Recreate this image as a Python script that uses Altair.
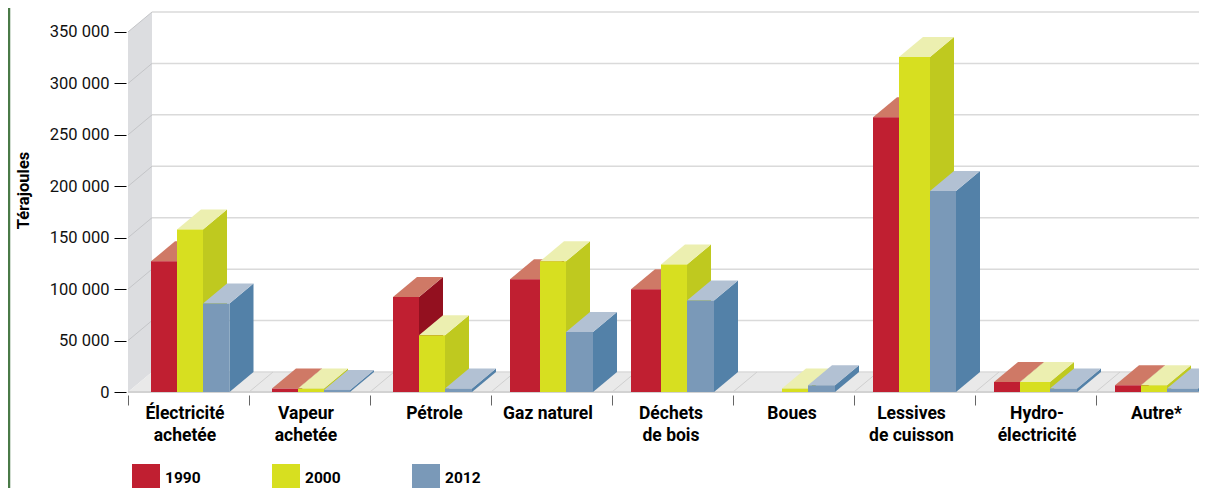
import altair as alt
import pandas as pd

# ---- data ----
categories = ["Électricité\nachetée", "Vapeur\nachetée", "Pétrole", "Gaz naturel", "Déchets\nde bois",
              "Boues", "Lessives\nde cuisson", "Hydro-\nélectricité", "Autre*"]
years = ["1990", "2000", "2012"]
v1990 = [127000, 3300, 92400, 109500, 99800, 0, 267000, 9700, 6500]
v2000 = [158000, 3300, 55100, 127000, 124000, 3300, 325700, 9700, 6500]
v2012 = [86000, 2000, 3300, 58300, 89000, 6500, 195400, 3300, 3300]
y_ticks = [0, 50000, 100000, 150000, 200000, 250000, 300000, 350000]

# ---- layout (drawing geometry of the pseudo-3D scene, in x-scale units) ----
STEP = 121
PLOT_W = 1071
PLOT_H = 380
DX = 24
DY = 19444
Y_MAX = 369444
edges = [[23, 49, 75, 101.5], [23, 49, 75, 101], [23, 49, 75, 102], [19, 49, 75, 102], [19, 49, 75, 102],
         [23, 49, 75, 102], [19, 45, 76, 102], [19, 45, 75, 102], [19, 45, 71, 102]]
label_shift = [-3.5, -3.5, 4, -3.5, -1.5, -1.5, -3, 1.5, 0]

front_col = {"1990": "#c01f31", "2000": "#d7df20", "2012": "#7a99b8"}
top_col = {"1990": "#cf7966", "2000": "#ecefb0", "2012": "#b2c1d3"}
side_col = {"1990": "#93101f", "2000": "#bfc91f", "2012": "#5381a8"}

FONT = "Roboto"
xs = alt.Scale(domain=[0, PLOT_W], nice=False, zero=False)
ys = alt.Scale(domain=[0, Y_MAX], nice=False)

fronts, sides, tops = [], [], []
for i, cat in enumerate(categories):
    for s, (yr, vals) in enumerate(zip(years, [v1990, v2000, v2012])):
        v = vals[i]
        if v == 0:
            continue
        x0 = i * STEP + edges[i][s]
        x1 = i * STEP + edges[i][s + 1]
        fronts.append(dict(cat=cat, year=yr, x=x0, x2=x1, v=v))
        for t in (0, 1):
            sides.append(dict(cat=cat, year=yr, x=x1 + t * DX, y=v + t * DY, y2=t * DY))
            tops.append(dict(cat=cat, year=yr, y=v + t * DY, x=x0 + t * DX, x2=x1 + t * DX))
fronts, sides, tops = map(pd.DataFrame, (fronts, sides, tops))

X = lambda f: alt.X(f, type="quantitative", scale=xs, axis=None)
Y = lambda f: alt.Y(f, type="quantitative", scale=ys, axis=None)

# wall (carries the value axis) and floor
wall_df = pd.DataFrame([dict(x=t * DX, y=t * DY, y2=350000 + t * DY) for t in (0, 1)])
wall = alt.Chart(wall_df).mark_area(color="#dcdde0", opacity=1).encode(
    x=alt.X("x:Q", scale=xs, axis=alt.Axis(
        values=[i * STEP for i in range(9)], labels=False, domain=False, grid=False, title=None,
        tickSize=10, tickColor="#666666", tickWidth=1, offset=3)),
    y=alt.Y("y:Q", scale=ys, axis=alt.Axis(
        values=y_ticks, domain=False, grid=False, tickSize=12, tickColor="#000000", tickWidth=1, offset=2,
        labelFont=FONT, labelFontSize=16.5, labelColor="#111111", labelPadding=5,
        labelExpr="replace(format(datum.value, ','), ',', ' ')",
        title="Térajoules", titleFont=FONT, titleFontSize=16.5, titleFontWeight="bold", titleColor="#000000",
        titleAngle=270, titleX=-95, titleY=178, titleAnchor="middle")),
    y2="y2:Q",
)
floor_df = pd.DataFrame([dict(y=t * DY, x=t * DX, x2=PLOT_W + t * DX) for t in (0, 1)])
floor = alt.Chart(floor_df).mark_area(color="#e9e9e9", orient="horizontal", opacity=1).encode(
    y=Y("y"), x=X("x"), x2="x2:Q")

grid_df = pd.DataFrame(dict(v=[v for v in y_ticks if v > 0]))
grid_back_df = pd.DataFrame(dict(v=y_ticks))
grid_df["x"], grid_df["x2"] = 0, DX
grid_df["y"] = grid_df.v
grid_df["y2"] = grid_df.v + DY
grid_back_df["x"], grid_back_df["x2"] = DX, PLOT_W
grid_back_df["y"] = grid_back_df.v + DY
slant = alt.Chart(grid_df).mark_rule(color="#c4c5c8", strokeWidth=1).encode(x=X("x"), x2="x2:Q", y=Y("y"), y2="y2:Q")
back = alt.Chart(grid_back_df).mark_rule(color="#dadada", strokeWidth=1.5).encode(x=X("x"), x2="x2:Q", y=Y("y"))

floor_lines_df = pd.DataFrame(dict(x=[i * STEP for i in range(1, 9)]))
floor_lines_df["x2"] = floor_lines_df.x + DX
floor_lines_df["y"] = 0
floor_lines_df["y2"] = DY
floor_lines = alt.Chart(floor_lines_df).mark_rule(color="#cfcfcf", strokeWidth=1).encode(
    x=X("x"), x2="x2:Q", y=Y("y"), y2="y2:Q")
base_df = pd.DataFrame([dict(x=0, x2=PLOT_W, y=0)])
base_line = alt.Chart(base_df).mark_rule(color="#d2d2d2", strokeWidth=2).encode(x=X("x"), x2="x2:Q", y=Y("y"))

# pseudo-3D faces, back to front
faces = []
for yr in years:
    faces.append(alt.Chart(sides[sides.year == yr]).mark_area(color=side_col[yr], opacity=1).encode(
        x=X("x"), y=Y("y"), y2="y2:Q", detail="cat:N"))
    faces.append(alt.Chart(tops[tops.year == yr]).mark_area(color=top_col[yr], orient="horizontal", opacity=1).encode(
        y=Y("y"), x=X("x"), x2="x2:Q", detail="cat:N"))

bars = alt.Chart(fronts).mark_bar(opacity=1).encode(
    x=X("x"), x2="x2:Q", y=Y("v"), y2=alt.datum(0),
    color=alt.Color("year:N", scale=alt.Scale(domain=years, range=[front_col[y] for y in years]),
                    legend=alt.Legend(title=None, orient="none", legendX=4, legendY=452, direction="horizontal",
                                      symbolType="square", symbolSize=784, symbolStrokeWidth=0, symbolOpacity=1,
                                      labelFont=FONT, labelFontSize=15.5, labelFontWeight="bold", labelColor="#000000",
                                      labelOffset=5, columnPadding=71)),
)

label_df = pd.DataFrame(dict(label=categories,
                             x=[i * STEP + STEP / 2 + label_shift[i] for i in range(9)], y=0))
labels = alt.Chart(label_df).mark_text(font=FONT, fontSize=17.5, fontWeight="bold", color="#000000",
                                       lineBreak="\n", lineHeight=22, baseline="alphabetic", dy=27).encode(
    x=X("x"), y=Y("y"), text="label:N")

# left page rule
frame = alt.Chart(pd.DataFrame(dict(a=[0]))).mark_rule(color="#4a7a47", strokeWidth=2.5, clip=False).encode(
    x=alt.value(-119), y=alt.value(-4), y2=alt.value(476))

chart = alt.layer(
    wall, floor, slant, back, floor_lines, base_line, *faces, bars, labels, frame
).resolve_axis(x="independent", y="independent").properties(
    width=PLOT_W, height=PLOT_H,
    autosize=alt.AutoSizeParams(type="none"),
    padding={"left": 120, "top": 4, "right": 0, "bottom": 96},
).configure_view(stroke=None)

chart.save("out.html", embed_options={"renderer": "svg", "actions": False})
